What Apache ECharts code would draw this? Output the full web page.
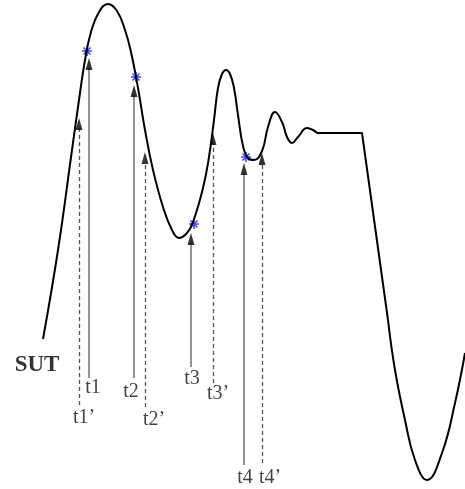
<!DOCTYPE html>
<html><head><meta charset="utf-8">
<script src="https://cdn.jsdelivr.net/npm/echarts@6/dist/echarts.min.js"></script>
<style>html,body{margin:0;padding:0;background:#fff}#c{width:465px;height:489px}</style>
</head><body><div id="c"></div>
<script>
// Curve (x, y) in diagram units; y grows downward
const curveA = [[43,339],[58,250],[72,150],[79,100],[85,60],[91,32],[99,12],[108,4],[117,11],[125,30],[131,52],[138,88],[145,130],[153,170],[163,207],[172,230],[179,238],[187,233],[193,222],[203,188],[209,157],[214,120],[218,88],[222,74],[226,70],[230,74],[234,88],[238,115],[243,146],[248,158],[254,160],[262,151],[268,127],[275,112],[282,122],[287,137],[292,143],[298,137],[307,128],[313,130],[317,133]];
const curveB = [[317,133],[362,133],[388,320]];
const curveC = [[388,320],[395,370],[405,420],[415,460],[427,480],[442,453],[455,403],[465,353]];
// Measured instants (blue asterisks)
const starPts = [[87,51],[136,77],[194,224],[246,157]];
// Solid arrows
const solidX = [89,134,191,244];
const solidBase = [378,378,367,465];
const solidTip = [58,85,233,163];
// Dashed arrows
const dashX = [79,145,213,262];
const dashBase = [405,407,383,463];
const dashTip = [118,152,133,153];
// Labels
const labelText = ['t1','t1\u2019','t2','t2\u2019','t3','t3\u2019','t4','t4\u2019'];
const labelPos = [[93,388],[84,418],[131,392],[154,420],[192,379],[218,394],[245,478],[270,478]];
const sutPos = [37,365];

const HEAD = 12;
function shafts(xs, bs, ts){ return xs.map((x,i)=>({coords:[[x,bs[i]],[x,ts[i]+HEAD-2]]})); }
function heads(xs, ts){ return xs.map((x,i)=>[x, ts[i]+HEAD/2]); }
const star = 'path://M5,0L5,10M0,5L10,5M1.5,1.5L8.5,8.5M8.5,1.5L1.5,8.5';

const chart = echarts.init(document.getElementById('c'));
chart.setOption({
  animation:false,
  grid:{left:0,right:0,top:0,bottom:0},
  xAxis:{type:'value',min:0,max:465,show:false},
  yAxis:{type:'value',min:0,max:489,inverse:true,show:false},
  series:[
    {type:'line',data:curveA,smooth:0.45,showSymbol:false,lineStyle:{color:'#000',width:2}},
    {type:'line',data:curveB,showSymbol:false,lineStyle:{color:'#000',width:2}},
    {type:'line',data:curveC,smooth:0.45,showSymbol:false,lineStyle:{color:'#000',width:2}},
    {type:'lines',coordinateSystem:'cartesian2d',data:shafts(solidX,solidBase,solidTip),lineStyle:{color:'#777',width:1.6,type:'solid',opacity:1}},
    {type:'lines',coordinateSystem:'cartesian2d',data:shafts(dashX,dashBase,dashTip),lineStyle:{color:'#555',width:1.3,type:[4,3],opacity:1}},
    {type:'scatter',data:heads(solidX.concat(dashX),solidTip.concat(dashTip)),symbol:'triangle',symbolSize:[7,HEAD],itemStyle:{color:'#000'}},
    {type:'scatter',data:starPts,symbol:star,symbolSize:10,itemStyle:{color:'none',borderColor:'#1a1aff',borderWidth:1.6}},
    {type:'scatter',data:labelPos.map((p,i)=>({value:p,name:labelText[i]})),symbolSize:0,
      label:{show:true,position:'inside',formatter:p=>p.name,fontFamily:'Liberation Serif',fontSize:20,color:'#111',textBorderWidth:0}},
    {type:'scatter',data:[{value:sutPos,name:'SUT'}],symbolSize:0,
      label:{show:true,position:'inside',formatter:'SUT',fontFamily:'Liberation Serif',fontWeight:'bold',fontSize:23,color:'#000',textBorderWidth:0}}
  ]
});
</script></body></html>
